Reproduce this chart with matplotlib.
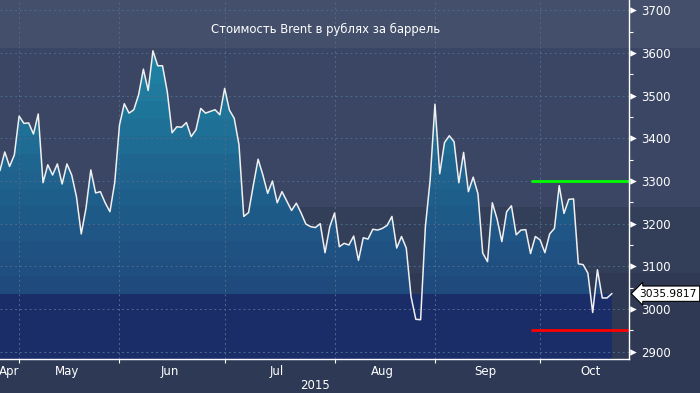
import numpy as np
import pandas as pd
import matplotlib.pyplot as plt
from matplotlib.colors import LinearSegmentedColormap
from matplotlib.patches import Polygon
from matplotlib.transforms import blended_transform_factory

plt.rcParams['font.family'] = ['DejaVu Sans']

# Данные, торговые дни начиная с 27.04.2015
title = 'Стоимость Brent в рублях за баррель'
start_date = '2015-04-27'
prices = [
    3325, 3368, 3334, 3361, 3452, 3435, 3436, 3410, 3457, 3296,
    3338, 3314, 3340, 3293, 3340, 3314, 3263, 3176, 3237, 3326,
    3272, 3275, 3249, 3228, 3296, 3431, 3481, 3459, 3467, 3502,
    3562, 3512, 3605, 3570, 3570, 3509, 3413, 3427, 3426, 3437,
    3404, 3420, 3470, 3459, 3463, 3467, 3455, 3517, 3466, 3447,
    3385, 3217, 3226, 3290, 3351, 3314, 3271, 3300, 3249, 3275,
    3253, 3231, 3248, 3225, 3199, 3193, 3191, 3200, 3132, 3193,
    3225, 3146, 3154, 3150, 3171, 3114, 3167, 3164, 3187, 3185,
    3189, 3196, 3217, 3143, 3170, 3143, 3029, 2976, 2975, 3193,
    3303, 3480, 3317, 3390, 3406, 3392, 3296, 3367, 3275, 3309,
    3270, 3131, 3111, 3249, 3211, 3158, 3228, 3242, 3174, 3185,
    3186, 3130, 3170, 3162, 3132, 3176, 3189, 3289, 3224, 3257,
    3258, 3106, 3104, 3084, 2992, 3092, 3026, 3026, 3035.9817,
]
last_label = '3035.9817'
level_high = 3300
level_low = 2950
level_start = '2015-09-29'
months = ['Apr', 'May', 'Jun', 'Jul', 'Aug', 'Sep', 'Oct']
month_starts = ['2015-04-01', '2015-05-01', '2015-06-01', '2015-07-01',
                '2015-08-01', '2015-09-01', '2015-10-01']
year_label = '2015'
y_ticks = [2900, 3000, 3100, 3200, 3300, 3400, 3500, 3600, 3700]

# индексы торговых дней
def bday_index(d):
    return int(np.busday_count(start_date, pd.Timestamp(d).date()))

x = np.arange(len(prices))
y = np.array(prices)
ymin, ymax = 2883, 3724
xmax = 131.6
last = prices[-1]

fig = plt.figure(figsize=(7, 3.93), dpi=100, facecolor='#2e3a55')
ax = fig.add_axes([0, 34 / 393, 629 / 700, 359 / 393])
ax.set_xlim(0, xmax)
ax.set_ylim(ymin, ymax)
ax.set_facecolor('#3a4663')

# фоновые полосы (до правого края картинки)
ext = 700 / 629
for lo, hi, c in [(3612, ymax, '#434f6b'), (3240, 3612, '#3a4663'),
                  (3085, 3240, '#333e59'), (ymin, 3085, '#2f3953')]:
    ax.axhspan(lo, hi, xmin=0, xmax=ext, color=c, lw=0, zorder=0, clip_on=False)

# нижняя тёмно-синяя зона до последнего значения
ax.fill_between([x[0], x[-1]], ymin, last, color='#1b2d69', lw=0, zorder=1)

# ступенчатый градиент под линией
clip = Polygon(np.column_stack([np.r_[x[0], x, x[-1]], np.r_[ymin, y, ymin]]),
               closed=True, facecolor='none', edgecolor='none',
               transform=ax.transData)
ax.add_patch(clip)
cmap = LinearSegmentedColormap.from_list('bb', ['#1f4a7e', '#1e6790', '#1f8aa8'])
edges = np.arange(last, ymax + 41, 41)
for i in range(len(edges) - 1):
    c = cmap(min(1, (edges[i] - last) / (3620 - last)))
    r = ax.axhspan(edges[i], edges[i + 1], color=c, lw=0, zorder=1)
    r.set_clip_path(clip)

# сетка
tick_idx = [bday_index(d) for d in month_starts[1:]]
for t in y_ticks:
    ax.axhline(t, color='#4e6b8a', lw=0.7, ls=(0, (2, 3)), zorder=2)
for t in tick_idx:
    ax.axvline(t, color='#4e6b8a', lw=0.7, ls=(0, (2, 3)), zorder=2)

ax.plot(x, y, color='#f0f0f0', lw=1.1, zorder=4)

# уровни
xs = bday_index(level_start)
ax.hlines(level_high, xs, xmax, color='#00ff00', lw=2, zorder=5)
ax.hlines(level_low, xs, xmax, color='#ff0000', lw=2, zorder=5)

# оси
for s in ['top', 'left']:
    ax.spines[s].set_visible(False)
for s in ['bottom', 'right']:
    ax.spines[s].set_color('white')
    ax.spines[s].set_linewidth(1)
    ax.spines[s].set_zorder(6)

ax.yaxis.tick_right()
ax.set_yticks(y_ticks)
ax.set_yticks(np.arange(2950, 3700, 100), minor=True)
ax.tick_params(axis='y', which='major', length=0, pad=9, labelsize=8.5,
               labelcolor='white')
ax.tick_params(axis='y', which='minor', length=3, width=0.8, color='white')
tr_y = blended_transform_factory(ax.transAxes, ax.transData)
ax.scatter([1.006] * len(y_ticks), y_ticks, marker='>', s=22, color='white',
           transform=tr_y, clip_on=False, zorder=6, lw=0)

ax.set_xticks(tick_idx)
ax.set_xticklabels([])
ax.tick_params(axis='x', length=3, width=0.8, color='white')

# подписи месяцев по центру месяца
tr_x = blended_transform_factory(ax.transData, ax.transAxes)
for name, d in zip(months, month_starts):
    n = len(pd.bdate_range(d, pd.Timestamp(d) + pd.offsets.MonthEnd(0)))
    pos = max(bday_index(d) + (n - 1) / 2, 2)
    ax.text(pos, -0.035, name, color='white', fontsize=8.5, ha='center',
            va='center', transform=tr_x)
ax.text(65.9, -0.075, year_label, color='white', fontsize=8.5, ha='center',
        va='center', transform=tr_x)

ax.text(0.517, 0.919, title, color='white', fontsize=8.4, ha='center',
        va='center', transform=ax.transAxes)

ax.text(1.017, last, last_label, color='black', fontsize=7.7, ha='left',
        va='center', transform=tr_y, zorder=7,
        bbox=dict(boxstyle='larrow,pad=0.25', fc='white', ec='black', lw=0.8))

fig.savefig('out.png', dpi=100, facecolor=fig.get_facecolor())
